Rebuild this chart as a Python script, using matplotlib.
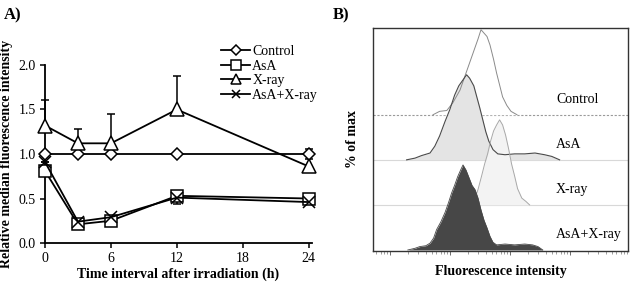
import numpy as np
import matplotlib
matplotlib.use("Agg")
import matplotlib.pyplot as plt

plt.rcParams["font.family"] = ["Liberation Serif", "DejaVu Serif"]

# ---- Panel A data ----
hours = [0, 3, 6, 12, 24]
control = [1.00, 1.00, 1.00, 1.00, 1.00]
control_err = [0.0, 0.0, 0.0, 0.0, 0.06]
asa = [0.81, 0.21, 0.25, 0.53, 0.50]
xray = [1.32, 1.12, 1.12, 1.50, 0.86]
xray_err = [0.29, 0.16, 0.33, 0.38, 0.0]
asa_xray = [0.91, 0.24, 0.29, 0.51, 0.46]
asa_xray_err = [0.0, 0.0, 0.0, 0.07, 0.0]

# ---- Panel B data (log10 fluorescence intensity, % of max) ----
ctrl_log = [1.72, 1.83, 1.95, 2.05, 2.17, 2.25, 2.33, 2.40, 2.47, 2.52,
            2.57, 2.62, 2.67, 2.73, 2.78, 2.83, 2.88, 2.95, 3.02, 3.12]
ctrl_pct = [0, 4, 5, 14, 29, 45, 61, 75, 89, 100,
            96, 92, 82, 65, 49, 35, 21, 11, 4, 0]

asa_log = [1.28, 1.42, 1.53, 1.67, 1.75, 1.83, 1.92, 2.00, 2.08, 2.15,
           2.22, 2.28, 2.33, 2.40, 2.45, 2.50, 2.55, 2.60, 2.65, 2.72,
           2.80, 2.92, 3.08, 3.25, 3.42, 3.58, 3.70, 3.83]
asa_pct = [0, 2, 5, 8, 16, 28, 45, 59, 76, 87,
           94, 100, 96, 87, 74, 61, 47, 33, 22, 12,
           7, 6, 7, 7, 8, 6, 4, 0]

xray_log = [2.33, 2.40, 2.47, 2.53, 2.58, 2.63, 2.68, 2.73, 2.78, 2.83,
            2.88, 2.93, 2.98, 3.03, 3.08, 3.13, 3.20, 3.27, 3.33]
xray_pct = [0, 4, 18, 34, 48, 60, 75, 87, 94, 100,
            94, 82, 66, 48, 34, 19, 8, 4, 0]

combo_log = [1.30, 1.42, 1.50, 1.60, 1.67, 1.73, 1.78, 1.85, 1.92, 1.98,
             2.03, 2.08, 2.13, 2.18, 2.22, 2.27, 2.32, 2.37, 2.42, 2.47,
             2.52, 2.57, 2.62, 2.67, 2.72, 2.78, 2.92, 3.08, 3.25, 3.38,
             3.47, 3.55]
combo_pct = [0, 2, 4, 5, 8, 14, 24, 33, 44, 56,
             67, 76, 86, 94, 100, 94, 85, 76, 71, 61,
             47, 35, 26, 16, 9, 6, 7, 6, 7, 6,
             4, 0]

lane_labels = ["Control", "AsA", "X-ray", "AsA+X-ray"]
lane_step = 53

fig = plt.figure(figsize=(6.34, 2.82), dpi=100)

# ---------------- Panel A ----------------
ax = fig.add_axes([45 / 634, 1 - 243 / 282, 267 / 634, 178 / 282])
eb = dict(fmt="none", ecolor="black", capsize=3, elinewidth=1.1, capthick=1.1,
          clip_on=False, zorder=2)
ax.errorbar(hours, control, yerr=[control_err, control_err], **eb)
ax.errorbar(hours, xray, yerr=[[0] * 5, xray_err], **eb)
ax.errorbar(hours, asa_xray, yerr=[asa_xray_err, [0] * 5], **eb)

mk = dict(color="black", lw=1.3, mfc="white", mec="black", mew=1.1, clip_on=False)
ax.plot(hours, control, marker="D", ms=6.5, label="Control", zorder=3, **mk)
ax.plot(hours, asa, marker="s", ms=9, label="AsA", zorder=4, **mk)
ax.plot(hours, xray, marker="^", ms=10, label="X-ray", zorder=4, **mk)
ax.plot(hours, asa_xray, marker="x", ms=8, label="AsA+X-ray", zorder=5, **mk)

ax.set_xlim(0, 24.3)
ax.set_ylim(0, 2.0)
ax.set_xticks([0, 6, 12, 18, 24])
ax.set_yticks([0.0, 0.5, 1.0, 1.5, 2.0])
ax.set_yticklabels(["0.0", "0.5", "1.0", "1.5", "2.0"])
for s in ["top", "right"]:
    ax.spines[s].set_visible(False)
for s in ["left", "bottom"]:
    ax.spines[s].set_linewidth(1.3)
ax.tick_params(direction="out", length=3.5, width=1.1, labelsize=10, pad=3)
ax.set_xlabel("Time interval after irradiation (h)", fontsize=10,
              fontweight="bold", labelpad=2)
ax.set_ylabel("Relative median fluorescence intensity", fontsize=10,
              fontweight="bold", labelpad=4)

ax.legend(loc="upper left", bbox_to_anchor=(221 / 634, 1 - 45 / 282),
          bbox_transform=fig.transFigure, frameon=False, fontsize=10,
          handlelength=2.1, handletextpad=0.15, labelspacing=0.12,
          borderpad=0, borderaxespad=0, markerscale=0.75)

fig.text(4 / 634, 1 - 15 / 282, "A)", fontsize=12, fontweight="bold",
         va="center", ha="left")

# ---------------- Panel B ----------------
bx = fig.add_axes([373 / 634, 1 - 251 / 282, 255 / 634, 223 / 282])
bx.set_xscale("log")
bx.set_xlim(10 ** 0.72, 10 ** 4.97)
bx.set_ylim(-1.2, 261)

curves = [(ctrl_log, ctrl_pct), (asa_log, asa_pct),
          (xray_log, xray_pct), (combo_log, combo_pct)]
offsets = [3 * lane_step, 2 * lane_step, lane_step, 0]

# lane baselines
bx.axhline(offsets[0], color="#9a9a9a", lw=0.8, ls=(0, (2, 1.5)), zorder=1)
bx.axhline(offsets[1], color="#d8d8d8", lw=0.8, zorder=1)
bx.axhline(offsets[2], color="#d8d8d8", lw=0.8, zorder=1)

styles = [
    dict(fill="white", edge="#8a8a8a", lw=0.7),
    dict(fill="#e4e4e4", edge="#4a4a4a", lw=0.8),
    dict(fill="#f3f3f3", edge="#a8a8a8", lw=0.7),
    dict(fill="#474747", edge="#474747", lw=0.6),
]
for i, ((lx, pct), off, st) in enumerate(zip(curves, offsets, styles)):
    xs = 10 ** np.array(lx)
    ys = np.array(pct) + off
    top_z = 8 if i == 3 else 2 + i * 0.1
    bx.fill_between(xs, off, ys, color=st["fill"], lw=0, zorder=top_z)
    bx.plot(xs, ys, color=st["edge"], lw=st["lw"],
            zorder=top_z + (0 if i == 3 else 3))

for name, off in zip(lane_labels, offsets):
    bx.text(10 ** 3.77, off + 18, name, fontsize=10, va="center", ha="left",
            zorder=10)

bx.set_yticks([])
for s in bx.spines.values():
    s.set_linewidth(1.0)
    s.set_color("#333333")
bx.tick_params(axis="x", which="major", direction="out", length=3, width=0.6,
               labelbottom=False, color="#555555")
bx.tick_params(axis="x", which="minor", direction="out", length=2, width=0.5,
               labelbottom=False, color="#777777")
bx.set_xlabel("Fluorescence intensity", fontsize=10, fontweight="bold",
              labelpad=7)
bx.set_ylabel("% of max", fontsize=10, fontweight="bold", labelpad=10)

fig.text(333 / 634, 1 - 15 / 282, "B)", fontsize=12, fontweight="bold",
         va="center", ha="left")

fig.savefig("out.png", dpi=100)
